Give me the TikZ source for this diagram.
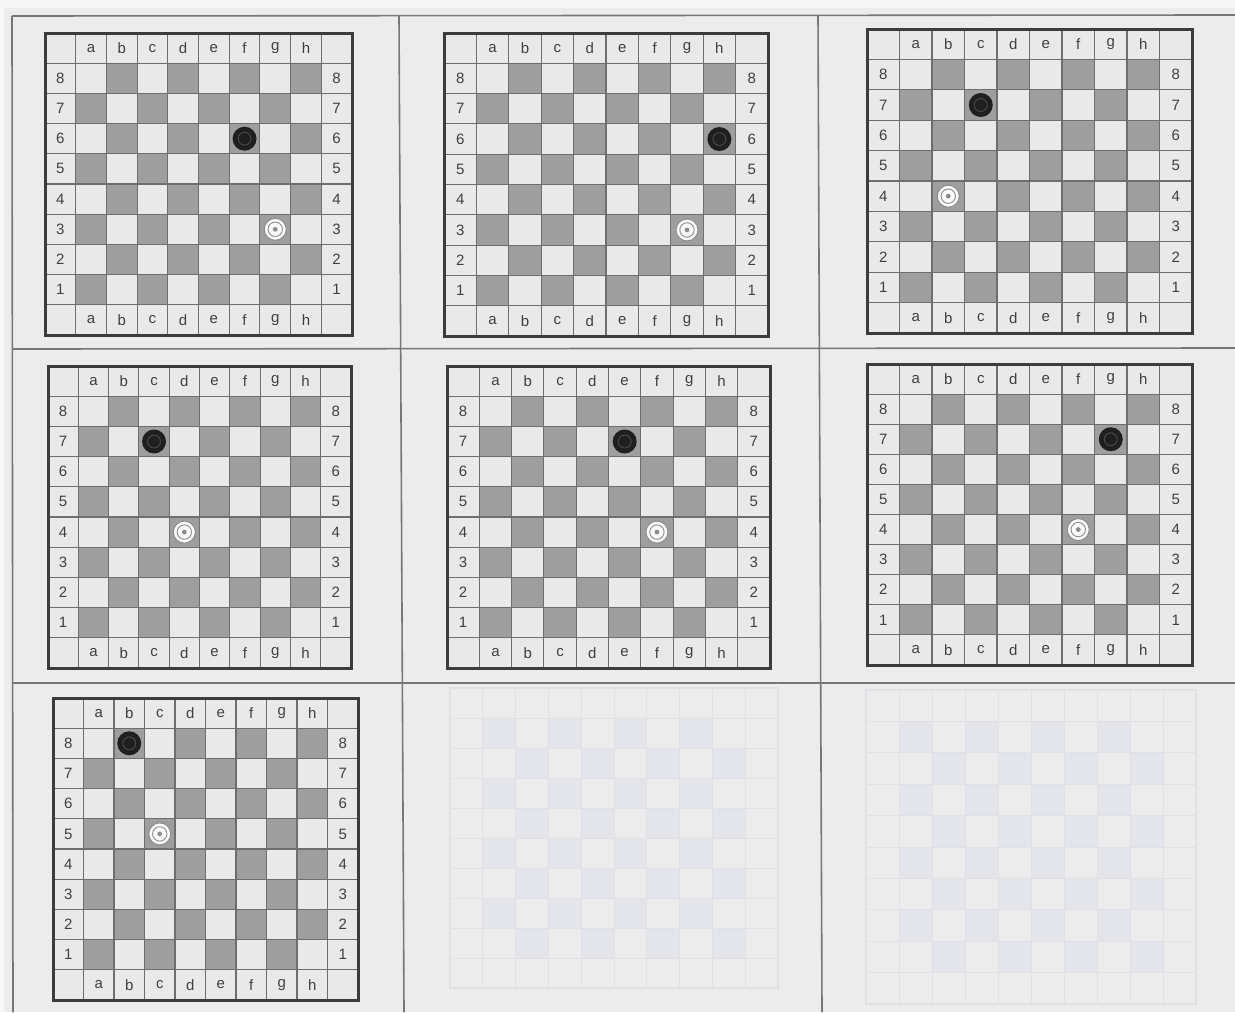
\documentclass[tikz,border=0pt]{standalone}
\usepackage{fontspec}
\setmainfont{Liberation Sans}
\definecolor{pagebg}{HTML}{ECECEC}
\definecolor{pagew}{HTML}{F7F7F7}
\definecolor{lightsqc}{HTML}{E9E9E9}
\definecolor{darksqc}{HTML}{9E9E9E}
\definecolor{gridc}{HTML}{6E6E6E}
\definecolor{framec}{HTML}{3C3C3C}
\definecolor{labc}{HTML}{404040}
\definecolor{pagelinec}{HTML}{767676}
\definecolor{ghostdark}{HTML}{E3E5EA}
\definecolor{ghostline}{HTML}{DFE1E6}
\tikzset{
  lightsq/.style={fill=lightsqc},
  darksq/.style={fill=darksqc},
  gridln/.style={draw=gridc,line width=0.55pt},
  frame/.style={draw=framec,line width=1.5pt},
  lab/.style={inner sep=0pt,text=labc,font=\fontsize{7.5}{9}\selectfont},
  blackpc/.style={circle,fill=black!88,inner sep=0pt,minimum size=12pt},
  whitepc/.style={circle,fill=white!96!gray,draw=black!45,line width=0.5pt,inner sep=0pt,minimum size=11pt},
  ringw/.style={draw=black!45,line width=0.45pt},
  ringb/.style={draw=black!72,line width=0.5pt},
  pageline/.style={draw=pagelinec,line width=0.8pt},
  ghostsq/.style={fill=ghostdark},
  ghostln/.style={draw=ghostline,line width=0.5pt},
}
% #1 name, #2 x0, #3 y0, #4 x1, #5 y1, #6 black file, #7 black rank, #8 white file, #9 white rank
\newcommand\drawboard[9]{%
  \pgfmathsetmacro\cw{(#4-#2)/10}%
  \pgfmathsetmacro\ch{(#5-#3)/10}%
  \fill[lightsq] (#2,#3) rectangle (#4,#5);
  \foreach \f in {1,...,8}{\foreach \r in {1,...,8}{%
    \pgfmathtruncatemacro\sqpar{mod(\f+\r,2)}%
    \ifnum\sqpar=0 \fill[darksq] ({#2+\f*\cw},{#3+(9-\r)*\ch}) rectangle ++(\cw,\ch);\fi}}
  \foreach \i in {1,...,9}{%
    \draw[gridln] ({#2+\i*\cw},#3) -- ({#2+\i*\cw},#5);
    \draw[gridln] (#2,{#3+\i*\ch}) -- (#4,{#3+\i*\ch});}
  \draw[frame] (#2,#3) rectangle (#4,#5);
  \foreach \l [count=\i] in {a,...,h}{%
    \node[lab] (#1-t\l) at ({#2+(\i+0.5)*\cw},{#3+0.5*\ch}) {\l};
    \node[lab] (#1-b\l) at ({#2+(\i+0.5)*\cw},{#3+9.5*\ch}) {\l};}
  \foreach \r in {1,...,8}{%
    \node[lab] (#1-l\r) at ({#2+0.5*\cw},{#3+(9.5-\r)*\ch}) {\r};
    \node[lab] (#1-r\r) at ({#2+9.5*\cw},{#3+(9.5-\r)*\ch}) {\r};}
  \node[blackpc] (#1-black) at ({#2+(#6+0.5)*\cw},{#3+(9.5-#7)*\ch}) {};
  \draw[ringb] (#1-black.center) circle[radius=3.2pt];
  \node[whitepc] (#1-white) at ({#2+(#8+0.5)*\cw},{#3+(9.5-#9)*\ch}) {};
  \draw[ringw] (#1-white.center) circle[radius=3.6pt];
  \fill[black!45] (#1-white.center) circle[radius=1.2pt];
}
% faint bleed-through board
\newcommand\ghostboard[5]{%
  \pgfmathsetmacro\cw{(#4-#2)/10}%
  \pgfmathsetmacro\ch{(#5-#3)/10}%
  \foreach \f in {1,...,8}{\foreach \r in {1,...,8}{%
    \pgfmathtruncatemacro\sqpar{mod(\f+\r,2)}%
    \ifnum\sqpar=1 \fill[ghostsq] ({#2+\f*\cw},{#3+(9-\r)*\ch}) rectangle ++(\cw,\ch);\fi}}
  \foreach \i in {1,...,9}{%
    \draw[ghostln] ({#2+\i*\cw},#3) -- ({#2+\i*\cw},#5);
    \draw[ghostln] (#2,{#3+\i*\ch}) -- (#4,{#3+\i*\ch});}
  \draw[ghostln,line width=0.9pt] (#2,#3) rectangle (#4,#5);
}
\begin{document}
\begin{tikzpicture}[x=0.5pt,y=-0.5pt]
\useasboundingbox (0,0) rectangle (1235,1012);
\fill[pagebg] (0,0) rectangle (1235,1012);
\fill[pagew] (0,0) rectangle (1235,8);
\fill[pagew] (0,0) rectangle (4,1012);
% page grid
\draw[pageline] (12,16) -- (1235,15);
\draw[pageline] (12,16) -- (13,1012);
\draw[pageline] (399,16) -- (404,1012);
\draw[pageline] (818,16) -- (822,1012);
\draw[pageline] (12,349) -- (1235,348);
\draw[pageline] (12,683) -- (1235,683);
% ghost boards
\ghostboard{g8}{450}{688}{778}{988}
\ghostboard{g9}{866}{690}{1196}{1004}
% boards
\drawboard{b1}{45}{33}{352}{335}{6}{6}{7}{3}
\drawboard{b2}{444}{33}{768}{336}{8}{6}{7}{3}
\drawboard{b3}{867}{29}{1192}{333}{3}{7}{2}{4}
\drawboard{b4}{48}{366}{351}{668}{3}{7}{4}{4}
\drawboard{b5}{447}{366}{770}{668}{5}{7}{6}{4}
\drawboard{b6}{867}{364}{1192}{665}{7}{7}{6}{4}
\drawboard{b7}{53}{698}{358}{1000}{2}{8}{3}{5}
\end{tikzpicture}
\end{document}
